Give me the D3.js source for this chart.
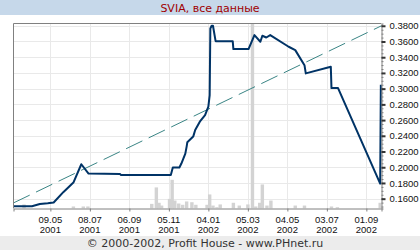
<!DOCTYPE html>
<html><head><meta charset="utf-8">
<script src="https://cdn.jsdelivr.net/npm/d3@7"></script>
<style>html,body{margin:0;padding:0;background:#fff;}svg{display:block;}</style>
</head><body>
<svg id="chart" width="420" height="250"></svg>
<script>
// ---- data ----
const titleText = "SVIA, все данные";
const footerText = "© 2000-2002, Profit House - www.PHnet.ru";
const priceDates = ["2001-03-14","2001-04-11","2001-04-23","2001-05-05","2001-05-14","2001-05-29","2001-06-13","2001-06-25","2001-07-06","2001-08-23","2001-08-24","2001-11-08","2001-11-11","2001-11-21","2001-11-24","2001-11-27","2001-11-30","2001-12-02","2001-12-03","2001-12-12","2001-12-15","2001-12-22","2001-12-30","2002-01-04","2002-01-06","2002-01-07","2002-01-09","2002-01-11","2002-01-15","2002-02-10","2002-02-11","2002-03-06","2002-03-15","2002-03-24","2002-03-27","2002-04-02","2002-04-08","2002-05-06","2002-05-16","2002-05-30","2002-06-01","2002-07-09","2002-07-10","2002-07-20","2002-09-22","2002-09-23"];
const priceValues = [0.1504,0.1504,0.1533,0.1542,0.1551,0.1686,0.1805,0.2038,0.1919,0.1914,0.1902,0.1902,0.1996,0.1996,0.2047,0.2110,0.2174,0.2263,0.2317,0.2390,0.2473,0.2580,0.2664,0.2771,0.2918,0.3766,0.3800,0.3800,0.3604,0.3604,0.3503,0.3503,0.3681,0.3597,0.3673,0.3651,0.3681,0.3533,0.3490,0.3299,0.3194,0.3279,0.3007,0.3007,0.1792,0.3050];
const volumeDates = ["2001-03-30","2001-06-13","2001-06-28","2001-07-05","2001-10-10","2001-10-17","2001-10-21","2001-10-25","2001-11-06","2001-11-10","2001-11-14","2001-11-20","2001-11-26","2001-12-02","2001-12-10","2001-12-16","2002-01-02","2002-01-06","2002-01-11","2002-01-17","2002-01-22","2002-02-11","2002-02-20","2002-03-05","2002-03-12","2002-03-17","2002-03-23","2002-03-27","2002-04-03","2002-04-09","2002-05-16","2002-05-30","2002-07-10","2002-07-19","2002-09-22"];
const volumeValues = [2.2,1.1,1.1,1.1,2.5,11.4,3.1,1.6,5.2,15.5,4.3,2.7,2.0,3.8,3.4,2.0,2.0,7.6,1.6,0.7,2.2,3.1,1.6,2.2,100,1.1,3.1,13,1.6,4.3,1.6,1.6,1.1,0.7,3.1];
const trendDates = ["2001-03-14","2002-09-24"];
const trendValues = [0.1546,0.3800];
const xTickDates = ["2001-05-09","2001-07-08","2001-09-06","2001-11-05","2002-01-04","2002-03-05","2002-05-04","2002-07-03","2002-09-01"];
const xTickTop = ["09.05","08.07","06.09","05.11","04.01","05.03","04.05","03.07","01.09"];
const xTickBottom = ["2001","2001","2001","2001","2002","2002","2002","2002","2002"];
const yTicks = [0.16,0.18,0.20,0.22,0.24,0.26,0.28,0.30,0.32,0.34,0.36,0.38];

// ---- layout ----
const parse = d3.utcParse("%Y-%m-%d");
const L = 13.5, R = 381.5, T = 23.5, B = 208.5;
const svg = d3.select("#chart");
const x = d3.scaleUtc().domain([parse("2001-03-14"), parse("2002-09-24")]).range([L, R]);
const y = d3.scaleLinear().domain([0.1475, 0.3829]).range([B, T]);
const yv = d3.scaleLinear().domain([0, 100]).range([B, T]);

// title band
svg.append("rect").attr("x",0).attr("y",0).attr("width",420).attr("height",15).attr("fill","#c6d8ea");
svg.append("text").attr("x",210).attr("y",8).attr("text-anchor","middle").attr("dominant-baseline","central")
  .attr("font-family","DejaVu Sans").attr("font-size",11).attr("fill","#a00000").text(titleText);
// footer band
svg.append("rect").attr("x",0).attr("y",236).attr("width",420).attr("height",14).attr("fill","#ececec");
svg.append("text").attr("x",205).attr("y",243.5).attr("text-anchor","middle").attr("dominant-baseline","central")
  .attr("font-family","DejaVu Sans").attr("font-size",11).attr("fill","#333").text(footerText);

svg.append("clipPath").attr("id","clip").append("rect").attr("x",L).attr("y",T).attr("width",R-L).attr("height",B-T);

// grid
const grid = svg.append("g").attr("stroke","#e9e9e9").attr("stroke-width",1);
grid.selectAll("line.h").data(yTicks).join("line").attr("class","h")
  .attr("x1",L).attr("x2",R).attr("y1",d=>Math.round(y(d))+0.5).attr("y2",d=>Math.round(y(d))+0.5);
grid.selectAll("line.v").data(xTickDates).join("line").attr("class","v")
  .attr("y1",T).attr("y2",B).attr("x1",d=>Math.round(x(parse(d)))+0.5).attr("x2",d=>Math.round(x(parse(d)))+0.5);

// volume bars
const vol = volumeDates.map((d,i)=>({d:parse(d), v:volumeValues[i]}));
svg.append("g").attr("clip-path","url(#clip)").selectAll("rect").data(vol).join("rect")
  .attr("x",d=>x(d.d)-1.7).attr("width",3.4)
  .attr("y",d=>yv(d.v)).attr("height",d=>B-yv(d.v)).attr("fill","#d3d3d3");

// trend line
const trend = trendDates.map((d,i)=>({d:parse(d), v:trendValues[i]}));
svg.append("path").datum(trend).attr("fill","none").attr("stroke","#3a8585").attr("stroke-width",1)
  .attr("stroke-dasharray","18,7")
  .attr("d", d3.line().x(d=>x(d.d)).y(d=>y(d.v)));

// price line
const price = priceDates.map((d,i)=>({d:parse(d), v:priceValues[i]}));
svg.append("path").datum(price).attr("fill","none").attr("stroke","#003366").attr("stroke-width",2)
  .attr("stroke-linejoin","round")
  .attr("d", d3.line().x(d=>x(d.d)).y(d=>y(d.v)));

// frame
svg.append("path").attr("fill","none").attr("stroke","#808080").attr("stroke-width",1)
  .attr("d",`M${L},${B}V${T}H${R}`);

// x axis
const xAxis = svg.append("g").attr("transform",`translate(0,${B})`)
  .call(d3.axisBottom(x).tickValues(xTickDates.map(parse)).tickSize(3).tickFormat(""));
xAxis.select(".domain").attr("stroke","#808080");
xAxis.selectAll(".tick line").attr("stroke","#808080");
const xl = svg.append("g").attr("font-family","Liberation Sans").attr("font-size",9.5).attr("fill","#111").attr("text-anchor","middle");
xl.selectAll("text.a").data(xTickDates).join("text").attr("class","a")
  .attr("x",d=>x(parse(d))).attr("y",219).attr("dominant-baseline","central").text((d,i)=>xTickTop[i]);
xl.selectAll("text.b").data(xTickDates).join("text").attr("class","b")
  .attr("x",d=>x(parse(d))).attr("y",229.5).attr("dominant-baseline","central").text((d,i)=>xTickBottom[i]);

// y axis (right)
const minor = d3.range(0.15, 0.3826, 0.005);
svg.append("g").attr("transform",`translate(${R},0)`)
  .call(d3.axisRight(y).tickValues(minor).tickSize(2).tickFormat(""))
  .call(g=>{g.select(".domain").attr("stroke","#808080"); g.selectAll(".tick line").attr("stroke","#808080");});
const yAxis = svg.append("g").attr("transform",`translate(${R},0)`)
  .call(d3.axisRight(y).tickValues(yTicks).tickSize(4).tickPadding(4).tickFormat(d3.format(".4f")));
yAxis.select(".domain").remove();
yAxis.selectAll(".tick line").attr("stroke","#333").attr("stroke-width",2);
yAxis.selectAll(".tick text").attr("font-family","Liberation Sans").attr("font-size",9.5).attr("fill","#111");
</script>
</body></html>
